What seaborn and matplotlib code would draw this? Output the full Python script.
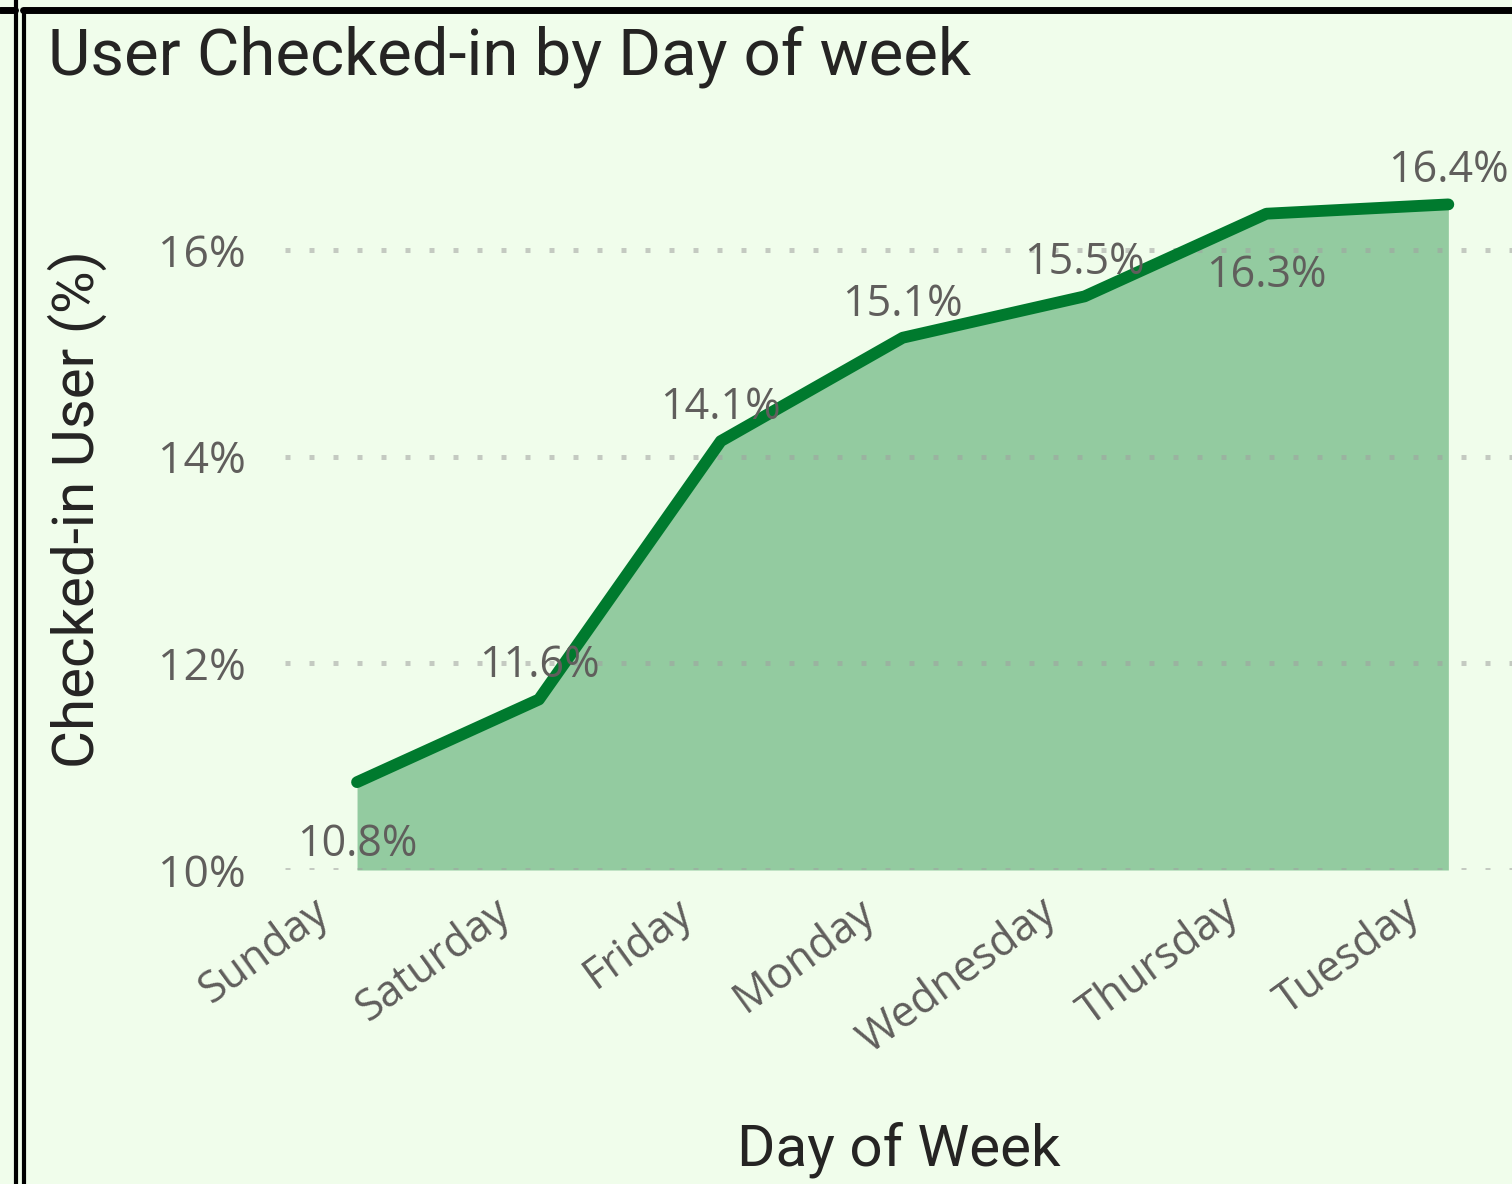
import matplotlib
matplotlib.use("Agg")
import matplotlib.pyplot as plt
from matplotlib.lines import Line2D
import matplotlib.transforms as mtransforms
import seaborn as sns
import pandas as pd
import numpy as np

days = ["Sunday", "Saturday", "Friday", "Monday", "Wednesday", "Thursday", "Tuesday"]
pct = [10.85, 11.65, 14.15, 15.15, 15.55, 16.35, 16.44]
labels = ["10.8%", "11.6%", "14.1%", "15.1%", "15.5%", "16.3%", "16.4%"]
label_side = ["below", "above", "above", "above", "above", "below", "above"]
yticks = [10, 12, 14, 16]
ytick_labels = ["10%", "12%", "14%", "16%"]

df = pd.DataFrame({"day": days, "pct": pct, "x": range(len(days))})

sns.set_theme(style="white")
BG = "#F0FDEB"
LINE = "#007A2E"
FILL = "#93CBA0"
GREY = "#605E5C"
DARK = "#252423"
plt.rcParams["font.family"] = ["Open Sans", "DejaVu Sans"]
HEAD = ["Roboto", "DejaVu Sans"]

fig = plt.figure(figsize=(15.12, 11.84), dpi=100, facecolor=BG)
ax = fig.add_axes([0.1885, 0.2652, 0.8115, 0.5997])
ax.set_facecolor(BG)

ax.fill_between(df["x"], 10, df["pct"], color=FILL, linewidth=0, zorder=2)
sns.lineplot(data=df, x="x", y="pct", ax=ax, color=LINE, linewidth=8.5,
             solid_capstyle="round", solid_joinstyle="round", zorder=4)

ax.set_xlim(-0.396, 6.35)
ax.set_ylim(10, 16.87)
ax.set_yticks(yticks)
ax.set_yticklabels(ytick_labels)
ax.set_xticks(range(len(days)))
ax.set_xticklabels(days, rotation=36, ha="right", rotation_mode="anchor")
ax.tick_params(axis="both", length=0, labelsize=31, labelcolor=GREY)
ax.tick_params(axis="y", labelsize=32, pad=28)
ax.tick_params(axis="x", pad=14)
offset = mtransforms.ScaledTranslation(-46 / 100, 0, fig.dpi_scale_trans)
for lbl in ax.get_xticklabels():
    lbl.set_transform(lbl.get_transform() + offset)
for s in ax.spines.values():
    s.set_visible(False)

for yv in yticks:
    ax.axhline(yv, color="#A0A0A0", alpha=0.55, linewidth=3.6,
               linestyle=(0, (1, 3.8)), zorder=3)

for i, (v, lab, side) in enumerate(zip(pct, labels, label_side)):
    dy = 24 if side == "above" else -45
    ax.annotate(lab, (i, v), xytext=(0, dy), textcoords="offset points",
                ha="center", va="center", fontsize=31, color=GREY, zorder=5)

xl = ax.set_xlabel("Day of Week", fontsize=42, color=DARK, family=HEAD)
xl.set_va("center")
ax.xaxis.set_label_coords(0.5, -0.394)
yl = ax.set_ylabel("Checked-in User (%)", fontsize=42, color=DARK, family=HEAD)
yl.set_va("center")
ax.yaxis.set_label_coords(-0.169, 0.508)

fig.text(48 / 1512, 1 - 57 / 1184, "User Checked-in by Day of week", fontsize=47,
         color=DARK, family=HEAD, va="center", ha="left")

# frame lines
W, H = 1512, 1184
def fx(p): return p / W
def fy(p): return 1 - p / H
fig.add_artist(Line2D([fx(16), fx(16)], [0, 1], color="black", linewidth=3, transform=fig.transFigure))
fig.add_artist(Line2D([fx(24), fx(24)], [0, fy(10)], color="black", linewidth=3, transform=fig.transFigure))
fig.add_artist(Line2D([0, fx(15)], [fy(9.5), fy(9.5)], color="black", linewidth=5, transform=fig.transFigure))
fig.add_artist(Line2D([fx(23), 1], [fy(9.5), fy(9.5)], color="black", linewidth=5, transform=fig.transFigure))

fig.savefig("out.png", dpi=100, facecolor=BG)
